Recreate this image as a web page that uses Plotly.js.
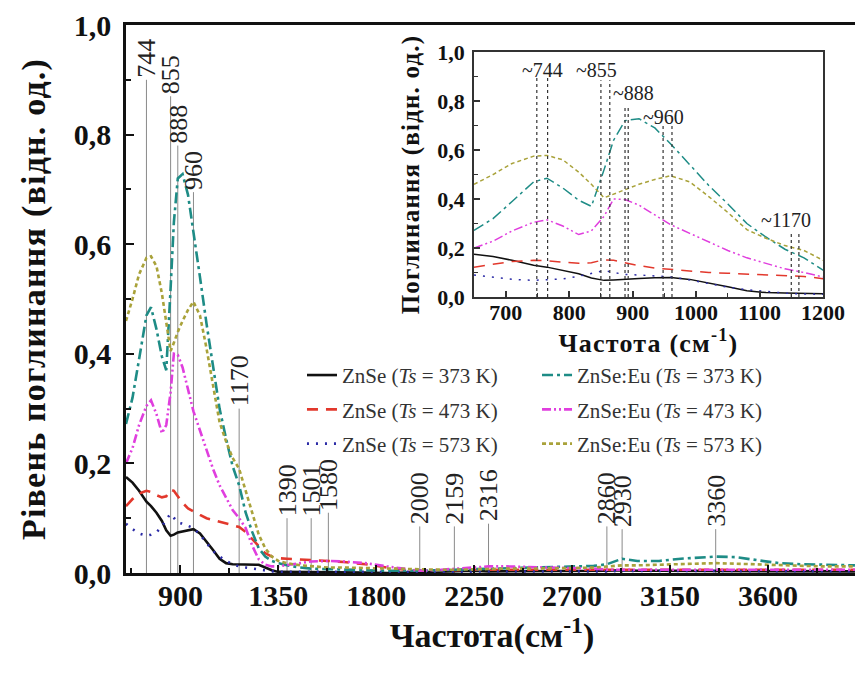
<!DOCTYPE html>
<html>
<head>
<meta charset="utf-8">
<script src="https://cdn.plot.ly/plotly-3.0.1.min.js"></script>
<style>
  html, body { margin: 0; padding: 0; background: #fff; overflow: hidden; }
  #chart { width: 858px; height: 675px; }
  /* axis titles are set slightly spaced out */
  #chart .ytitle, #chart .y2title, #chart .x2title { letter-spacing: 1.2px; }
</style>
</head>
<body>
<div id="chart"></div>
<script>
// IR absorption spectra of ZnSe and ZnSe:Eu films at three substrate temperatures
const wavenumber = [650, 680, 710, 744, 765, 790, 815, 835, 855, 870,
  888, 910, 935, 960, 990, 1020, 1050, 1080, 1110, 1140,
  1170, 1200, 1230, 1260, 1290, 1320, 1350,
  1390, 1450, 1501, 1580, 1650, 1750, 1850, 1950, 2000, 2100,
  2159, 2250, 2316, 2400, 2500, 2600, 2700, 2800, 2860, 2930,
  3000, 3100, 3200, 3300, 3360, 3450, 3550, 3650, 3750, 3850, 4000];

const znse373 = [0.175, 0.165, 0.150, 0.130, 0.122, 0.110, 0.095, 0.078, 0.068, 0.070,
  0.074, 0.076, 0.079, 0.080, 0.072, 0.058, 0.042, 0.026, 0.018, 0.016,
  0.016, 0.016, 0.016, 0.015, 0.010, 0.005, 0.002,
  0.002, 0.001, 0.001, 0.001, 0.001, 0.001, 0.000, 0.001, 0.001, 0.002,
  0.003, 0.004, 0.003, 0.003, 0.003, 0.003, 0.004, 0.004, 0.004, 0.005,
  0.004, 0.004, 0.004, 0.004, 0.004, 0.004, 0.003, 0.003, 0.003, 0.003, 0.003];

const znse473 = [0.122, 0.135, 0.145, 0.150, 0.148, 0.142, 0.138, 0.140, 0.152, 0.150,
  0.140, 0.128, 0.118, 0.112, 0.106, 0.100, 0.097, 0.094, 0.090, 0.087,
  0.084, 0.075, 0.062, 0.048, 0.036, 0.030, 0.027,
  0.026, 0.025, 0.024, 0.022, 0.020, 0.016, 0.010, 0.005, 0.004, 0.004,
  0.005, 0.006, 0.006, 0.006, 0.006, 0.006, 0.006, 0.006, 0.006, 0.006,
  0.006, 0.006, 0.006, 0.006, 0.006, 0.006, 0.006, 0.006, 0.006, 0.006, 0.006];

const znse573 = [0.090, 0.080, 0.072, 0.068, 0.070, 0.074, 0.085, 0.098, 0.108, 0.100,
  0.092, 0.090, 0.086, 0.082, 0.070, 0.055, 0.040, 0.030, 0.022, 0.016,
  0.012, 0.010, 0.008, 0.006, 0.004, 0.003, 0.002,
  0.002, 0.002, 0.002, 0.002, 0.002, 0.002, 0.002, 0.002, 0.002, 0.002,
  0.002, 0.003, 0.003, 0.003, 0.003, 0.003, 0.003, 0.003, 0.003, 0.004,
  0.004, 0.004, 0.004, 0.004, 0.004, 0.004, 0.003, 0.003, 0.003, 0.003, 0.003];

const znseEu373 = [0.272, 0.320, 0.390, 0.470, 0.485, 0.445, 0.395, 0.370, 0.520, 0.640,
  0.720, 0.728, 0.690, 0.625, 0.540, 0.455, 0.380, 0.300, 0.245, 0.195,
  0.160, 0.110, 0.075, 0.045, 0.030, 0.022, 0.018,
  0.014, 0.010, 0.008, 0.007, 0.006, 0.005, 0.004, 0.004, 0.004, 0.005,
  0.006, 0.007, 0.008, 0.009, 0.010, 0.010, 0.011, 0.013, 0.016, 0.026,
  0.022, 0.022, 0.026, 0.029, 0.030, 0.029, 0.024, 0.018, 0.016, 0.015, 0.014];

const znseEu473 = [0.200, 0.228, 0.270, 0.305, 0.315, 0.290, 0.255, 0.270, 0.330, 0.400,
  0.398, 0.375, 0.335, 0.295, 0.260, 0.225, 0.190, 0.160, 0.138, 0.115,
  0.100, 0.082, 0.050, 0.025, 0.015, 0.012, 0.012,
  0.014, 0.018, 0.021, 0.022, 0.021, 0.018, 0.012, 0.006, 0.004, 0.006,
  0.008, 0.010, 0.012, 0.012, 0.011, 0.010, 0.008, 0.008, 0.006, 0.006,
  0.005, 0.005, 0.005, 0.005, 0.005, 0.006, 0.006, 0.006, 0.006, 0.006, 0.006];

const znseEu573 = [0.460, 0.500, 0.545, 0.575, 0.578, 0.560, 0.510, 0.460, 0.405, 0.420,
  0.440, 0.460, 0.480, 0.495, 0.470, 0.410, 0.345, 0.275, 0.240, 0.210,
  0.190, 0.150, 0.110, 0.070, 0.045, 0.030, 0.022,
  0.018, 0.014, 0.012, 0.010, 0.010, 0.009, 0.008, 0.007, 0.006, 0.006,
  0.006, 0.007, 0.007, 0.008, 0.008, 0.008, 0.009, 0.010, 0.012, 0.014,
  0.014, 0.015, 0.016, 0.017, 0.018, 0.017, 0.016, 0.014, 0.013, 0.012, 0.012];

const seriesNames = [
  'ZnSe (<i>Ts</i> = 373 K)', 'ZnSe (<i>Ts</i> = 473 K)', 'ZnSe (<i>Ts</i> = 573 K)',
  'ZnSe:Eu (<i>Ts</i> = 373 K)', 'ZnSe:Eu (<i>Ts</i> = 473 K)', 'ZnSe:Eu (<i>Ts</i> = 573 K)'
];

// band positions marked on the full spectrum
const peakPositions = [744, 855, 888, 960, 1170, 1390, 1501, 1580, 2000, 2159, 2316, 2860, 2930, 3360];
const peakLabelLevel = [0.90, 0.87, 0.78, 0.695, 0.30, 0.10, 0.10, 0.11, 0.085, 0.085, 0.09, 0.085, 0.08, 0.08];

// bands marked in the zoomed 650–1200 cm-1 panel
const insetPeakNames = ['~744', '~855', '~888', '~960', '~1170'];
const insetPeakPairs = [[749, 766], [850, 864], [888, 893], [948, 962], [1150, 1162]];
const insetPeakLevel = [0.905, 0.885, 0.78, 0.70, 0.265];
const insetLabelLevel = [0.927, 0.927, 0.833, 0.735, 0.314];
const insetLabelShift = [0, -9, 7, -4, -9];

const serif = 'Liberation Serif, Times New Roman, serif';
const seriesValues = [znse373, znse473, znse573, znseEu373, znseEu473, znseEu573];
const lineStyles = [
  { color: '#111111', dash: 'solid' },
  { color: '#e2382c', dash: '11px,8px' },
  { color: '#2b2ba6', dash: '2px,7px' },
  { color: '#1e8c86', dash: '11px,4px,3px,4px' },
  { color: '#e03ede', dash: '9px,3px,2px,3px,2px,3px' },
  { color: '#a9a23a', dash: '4px,3px' }
];

const traces = [];
seriesValues.forEach((vals, i) => {
  traces.push({
    type: 'scatter', mode: 'lines', x: wavenumber, y: vals,
    name: seriesNames[i], legend: i < 3 ? 'legend' : 'legend2',
    legendgroup: 'g' + i,
    line: { color: lineStyles[i].color, dash: lineStyles[i].dash, width: 2.6 },
    xaxis: 'x', yaxis: 'y'
  });
});
seriesValues.forEach((vals, i) => {
  traces.push({
    type: 'scatter', mode: 'lines', x: wavenumber, y: vals,
    name: seriesNames[i], showlegend: false,
    line: { color: lineStyles[i].color, dash: lineStyles[i].dash, width: 1.5 },
    xaxis: 'x2', yaxis: 'y2'
  });
});

const shapes = [];
const annotations = [];
peakPositions.forEach((p, i) => {
  shapes.push({
    type: 'line', xref: 'x', yref: 'y', x0: p, x1: p, y0: 0, y1: peakLabelLevel[i],
    line: { color: '#8a8a8a', width: 1 }, layer: 'below'
  });
  annotations.push({
    xref: 'x', yref: 'y', x: p, y: peakLabelLevel[i], text: String(p),
    showarrow: false, textangle: -90, xanchor: 'center', yanchor: 'bottom',
    font: { family: serif, size: 26, color: '#222' }
  });
});
insetPeakPairs.forEach((pair, i) => {
  pair.forEach(p => shapes.push({
    type: 'line', xref: 'x2', yref: 'y2', x0: p, x1: p, y0: 0, y1: insetPeakLevel[i],
    line: { color: '#333', width: 1.2, dash: '3px,3px' }
  }));
  annotations.push({
    xref: 'x2', yref: 'y2', x: (pair[0] + pair[1]) / 2, y: insetLabelLevel[i],
    xshift: insetLabelShift[i], text: insetPeakNames[i], showarrow: false,
    xanchor: 'center', yanchor: 'middle',
    font: { family: serif, size: 20, color: '#222' }
  });
});

const boldFont = (size) => ({ family: serif, size: size, color: '#111', weight: 'bold' });

const layout = {
  width: 858, height: 675,
  margin: { l: 126, r: 0, t: 25, b: 102 },
  separators: ', ',
  paper_bgcolor: '#ffffff', plot_bgcolor: '#ffffff',
  font: { family: serif, color: '#111' },
  showlegend: true,
  xaxis: {
    range: [650, 4014], tickmode: 'linear', tick0: 900, dtick: 450,
    ticks: 'inside', ticklen: 8, tickwidth: 2, tickcolor: '#111',
    minor: { dtick: 225, tick0: 675, ticks: 'inside', ticklen: 5, tickwidth: 1.5, tickcolor: '#111' },
    showline: true, linewidth: 2.5, linecolor: '#111', mirror: true,
    showgrid: false, zeroline: false, tickfont: boldFont(30), ticklabelstandoff: -6,
    title: { text: 'Частота(см<sup>-1</sup>)', font: boldFont(34), standoff: 8 }
  },
  yaxis: {
    range: [0, 1], tickmode: 'linear', tick0: 0, dtick: 0.2, tickformat: '.1f',
    ticks: 'inside', ticklen: 8, tickwidth: 2, tickcolor: '#111',
    minor: { dtick: 0.1, ticks: 'inside', ticklen: 5, tickwidth: 1.5, tickcolor: '#111' },
    showline: true, linewidth: 2.5, linecolor: '#111', mirror: true,
    showgrid: false, zeroline: false, tickfont: boldFont(30), ticklabelstandoff: 6,
    title: { text: 'Рівень поглинання (відн. од.)', font: boldFont(34), standoff: 18 }
  },
  xaxis2: {
    domain: [0.4754, 0.9522], anchor: 'y2', range: [650, 1200],
    tickmode: 'linear', tick0: 700, dtick: 100,
    ticks: 'inside', ticklen: 6, tickwidth: 1.5, tickcolor: '#333',
    minor: { dtick: 50, ticks: 'inside', ticklen: 4, tickwidth: 1, tickcolor: '#333' },
    showline: true, linewidth: 1.8, linecolor: '#333', mirror: true,
    showgrid: false, zeroline: false, tickfont: boldFont(22), ticklabelstandoff: -5,
    title: { text: 'Частота (см<sup>-1</sup>)', font: boldFont(26), standoff: 0 }
  },
  yaxis2: {
    domain: [0.5036, 0.9507], anchor: 'x2', range: [0, 1],
    tickmode: 'linear', tick0: 0, dtick: 0.2, tickformat: '.1f',
    ticks: 'inside', ticklen: 6, tickwidth: 1.5, tickcolor: '#333',
    minor: { dtick: 0.1, ticks: 'inside', ticklen: 4, tickwidth: 1, tickcolor: '#333' },
    showline: true, linewidth: 1.8, linecolor: '#333', mirror: true,
    showgrid: false, zeroline: false, tickfont: boldFont(22), ticklabelstandoff: 3,
    title: { text: 'Поглинання (відн. од.)', font: boldFont(25), standoff: 10 }
  },
  legend: {
    x: 0.2404, xanchor: 'left', y: 0.398, yanchor: 'top',
    bgcolor: 'rgba(0,0,0,0)', borderwidth: 0, traceorder: 'grouped', tracegroupgap: 4,
    font: { family: serif, size: 21, color: '#333' }
  },
  legend2: {
    x: 0.5615, xanchor: 'left', y: 0.398, yanchor: 'top',
    bgcolor: 'rgba(0,0,0,0)', borderwidth: 0, traceorder: 'grouped', tracegroupgap: 4,
    font: { family: serif, size: 21, color: '#333' }
  },
  shapes: shapes,
  annotations: annotations
};

Plotly.newPlot('chart', traces, layout, { displayModeBar: false, responsive: false });
</script>
</body>
</html>
